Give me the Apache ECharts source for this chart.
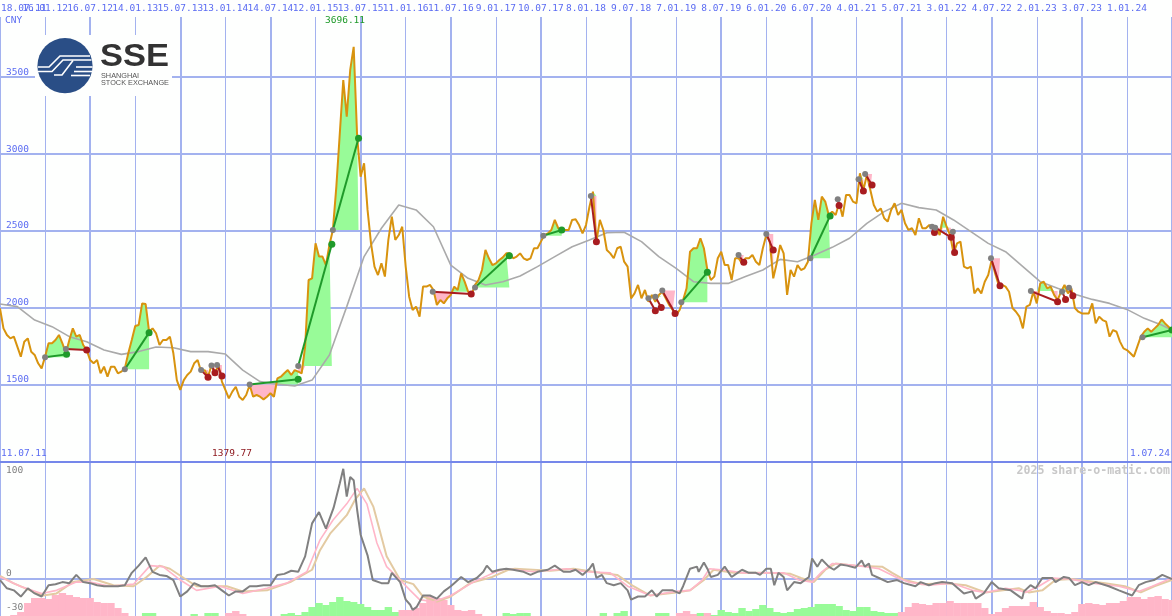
<!DOCTYPE html>
<html>
<head>
<meta charset="utf-8">
<style>html,body{margin:0;padding:0;background:#fefffe}#c{width:1172px;height:616px}</style>
<script src="https://cdn.jsdelivr.net/npm/echarts@6/dist/echarts.min.js"></script>
</head>
<body>
<div id="c"></div>
<script>
// x unit: one step = two weeks, starting 11.07.11
const tickLabels = ["18.07.11","16.01.12","16.07.12","14.01.13","15.07.13","13.01.14","14.07.14","12.01.15","13.07.15","11.01.16","11.07.16","9.01.17","10.07.17","8.01.18","9.07.18","7.01.19","8.07.19","6.01.20","6.07.20","4.01.21","5.07.21","3.01.22","4.07.22","2.01.23","3.07.23","1.01.24"];
const price = [
1998,1868,1825,1803,1814,1749,1684,1781,1803,1716,1695,1641,1608,1684,1771,1771,1792,1825,1771,1706,
1792,1868,1814,1825,1760,1727,1662,1641,1662,1576,1619,1554,1619,1619,1576,1587,1608,1706,1792,1883,
1890,2030,2026,1846,1868,1836,1760,1792,1792,1814,1706,1532,1468,1532,1565,1587,1641,1662,1587,1597,
1554,1630,1576,1630,1522,1468,1413,1457,1489,1424,1403,1435,1500,1424,1435,1424,1407,1424,1446,1424,
1543,1554,1576,1597,1565,1597,1587,1576,1749,2182,2193,2420,2334,2334,2279,2409,2507,2788,3135,3481,
3243,3546,3696,3113,2853,2940,2637,2420,2269,2214,2290,2204,2442,2593,2442,2474,2528,2269,2074,1987,
2009,1944,2139,2139,2150,2117,2020,2052,2030,2063,2085,2139,2117,2225,2171,2106,2085,2150,2182,2247,
2377,2323,2279,2290,2312,2329,2355,2355,2323,2334,2355,2323,2312,2323,2388,2388,2431,2474,2485,2507,
2572,2518,2507,2507,2507,2572,2576,2539,2485,2539,2658,2756,2431,2572,2507,2377,2355,2323,2388,2398,
2301,2269,2063,2095,2150,2063,2117,2041,2085,2041,2085,2106,2063,2020,1987,1955,1987,2052,2128,2366,
2388,2388,2453,2388,2247,2182,2204,2323,2366,2279,2279,2182,2323,2323,2290,2323,2323,2344,2301,2279,
2388,2474,2431,2193,2290,2409,2355,2085,2247,2204,2279,2247,2258,2301,2550,2702,2572,2723,2691,2604,
2626,2604,2680,2593,2734,2734,2691,2680,2875,2766,2864,2766,2669,2626,2647,2583,2561,2637,2680,2604,
2637,2550,2507,2518,2474,2583,2518,2518,2539,2528,2518,2474,2593,2528,2474,2355,2420,2431,2269,2258,
2269,2095,2128,2095,2171,2214,2312,2225,2150,2150,2139,2106,2000,1976,1944,1868,2009,2020,2106,2030,
2160,2171,2128,2139,2085,2052,2106,2150,2095,2128,2000,1976,1965,1965,1965,2030,1900,1944,1922,1911,
1814,1857,1846,1782,1738,1727,1706,1684,1749,1814,1846,1868,1846,1868,1890,1926,1900,1879,1846
];
const movingAvg = [
[0,2026],[5,2009],[10,1922],[15,1879],[20,1814],[25,1781],[30,1727],[35,1699],[40,1717],[45,1747],[50,1742],[55,1717],[60,1717],[65,1701],[70,1597],[75,1522],[80,1506],[85,1494],[90,1532],[95,1695],[100,2009],[105,2334],[110,2518],[115,2669],[120,2637],[125,2528],[130,2279],[135,2193],[140,2150],[145,2171],[150,2208],[155,2269],[160,2334],[165,2398],[170,2442],[175,2489],[180,2492],[185,2431],[190,2334],[195,2258],[200,2171],[205,2160],[210,2160],[215,2204],[220,2247],[225,2316],[230,2301],[235,2344],[240,2394],[245,2453],[250,2550],[255,2626],[260,2680],[265,2652],[270,2637],[275,2572],[280,2496],[285,2420],[290,2366],[295,2269],[300,2171],[305,2128],[310,2089],[315,2056],[320,2030],[325,1991],[330,1933],[335,1890],[338,1857]
];
// start index, start value, end index, end value
const segments = [
[13,1680,19.2,1699],[19,1734,25,1727],[36,1602,43,1840],[58,1597,60,1550],[61,1626,62,1580],[62.6,1630,64,1558],
[72,1504,86,1537],[86,1623,95.7,2414],[96,2507,103.4,3102],[124.8,2106,135.9,2091],[137,2134,146.9,2340],[156.7,2470,162,2507],
[170.4,2728,172,2431],[187,2063,189,1983],[189,2074,190.7,2004],[191,2113,194.7,1965],[196.5,2037,204,2232],[213,2344,214.5,2297],
[221,2481,223,2377],[233.7,2323,239.4,2598],[241.6,2706,242,2665],[247.6,2836,249,2760],[249.5,2870,251.5,2799],[268.8,2528,269.5,2490],
[269.7,2522,274.3,2459],[274.8,2496,275.3,2360],[285.8,2323,288.4,2145],[297.3,2110,305,2041],[306.3,2106,307.3,2056],[308.3,2132,309.4,2080],[329.5,1810,338,1857]
];
const oscillator = [
[0,-1],[2,-9],[4,-11],[6,-17],[8,-9],[10,-14],[12,-17],[14,-6],[16,-5],[18,-3],[20,-4],[22,4],[24,-3],[26,-4],[28,-6],[30,-7],[32,-7],[34,-7],[36,-6],[38,6],[40,13],[42,21],[44,7],[46,4],[48,3],[50,-1],[52,-17],[54,-12],[56,-4],[58,-7],[60,-7],[62,-6],[64,-11],[66,-16],[68,-12],[70,-12],[72,-7],[74,-7],[76,-6],[78,-6],[80,4],[82,5],[84,8],[86,7],[88,22],[90,54],[92,65],[94,49],[96.2,69],[98,93],[99,107],[100,80],[101,99],[102,96],[103,67],[104,43],[106,23],[107.5,-1],[110,-4],[112,-4],[113,6],[115.4,-3],[117,-20],[118.3,-25],[119,-30],[120.2,-27],[121,-22],[122,-16],[124,-16],[126,-19],[128,-12],[130,-7],[131,-4],[133,2],[135,-3],[137.5,1],[139.4,7],[140.4,13],[142,7],[144,9],[146,10],[148,9],[151,7],[153,4],[155,7],[158,9],[160,13],[162.5,7],[164.4,7],[166,9],[168,4],[170,10],[171,15],[172,1],[173.6,4],[175,-4],[177,-6],[179,-4],[181,-11],[182,-20],[184,-17],[186,-17],[188,-11],[189.4,-17],[191,-11],[194,-11],[196,-14],[197,-7],[199,10],[201,12],[201.5,7],[203,16],[204,10],[205,2],[207,4],[209,12],[211,2],[212.7,6],[214,9],[216,6],[218,6],[219.2,4],[221,10],[222.3,10],[223.3,-6],[224.5,6],[226,2],[227,-11],[229,-3],[230.9,-4],[233.3,2],[234.2,20],[235.7,12],[237,19],[239,12],[240.5,9],[242.4,14],[244.3,13],[246.7,11],[248.5,18],[249.4,12],[250.6,15],[251.5,4],[253.5,1],[256,-3],[258.7,-1],[260.7,-4],[264,-7],[265.5,-3],[267.9,-6],[269.8,-4],[271.7,-3],[274.6,-4],[278,-14],[280.4,-12],[281.4,-19],[283.7,-14],[286,-3],[288,-9],[291.5,-11],[294.8,-19],[295.3,-12],[297.2,-6],[298.7,-9],[300.6,1],[303.5,1],[304.4,-3],[306.8,2],[308.3,1],[310,-6],[312,-3],[314,-6],[316,-3],[319.8,-7],[322.7,-11],[326.5,-16],[328.4,-6],[330.4,-3],[332.8,-1],[335.2,4],[338,0]
];
const fastAvg = [
[0,2],[5.8,-7],[12,-14],[16.3,-11],[22,-3],[26,-3],[31.7,-7],[38.5,-5],[43.3,13],[47,12],[52,-1],[56.7,-11],[63.5,-7],[70,-14],[77,-9],[82.7,-4],[88.5,7],[92.3,38],[96,57],[100,73],[103,88],[105.8,73],[108.7,35],[111.5,12],[115.4,-1],[118.3,-11],[121,-20],[125,-22],[130,-16],[136.5,-3],[143,7],[146,10],[153.8,7],[163.5,10],[169,7],[176,6],[181,-7],[187.5,-16],[195,-12],[199,-11],[202.5,-1],[204.6,10],[208,9],[214.4,6],[221,6],[226,6],[230.4,-1],[234.2,-3],[237,7],[240,15],[244,14],[249.6,12],[253.5,10],[258.3,2],[262,-3],[267.9,-6],[274.6,-4],[280.4,-11],[284.2,-13],[290,-9],[293.8,-11],[295.8,-13],[299.6,-7],[303.5,1],[308.3,0],[315,-4],[322.7,-7],[328.4,-12],[332.3,-7],[338,1]
];
const slowAvg = [
[0,3],[3.8,-4],[8.7,-11],[12.5,-16],[16.3,-14],[21,-3],[27,0],[32.7,-6],[38.5,-7],[42.3,2],[46,13],[49,10],[53,1],[56.7,-7],[65.4,-7],[70,-12],[77,-11],[83.7,-3],[90,9],[92.3,28],[95.2,44],[100,62],[102.4,77],[105,88],[107.7,70],[111.5,22],[115.4,-1],[119.2,-5],[122,-17],[126,-22],[130,-17],[135.6,-4],[142,2],[146.6,9],[148.5,10],[158.7,8],[165.4,10],[173,6],[178,4],[182.7,-7],[187.5,-16],[195,-13],[199,-11],[203,-1],[205.8,9],[211.5,6],[221,6],[228,5],[231,1],[234.7,-3],[238,9],[241,15],[246.7,13],[254.4,12],[257.3,6],[261,-1],[265.9,-5],[272.7,-4],[278.5,-6],[284.2,-13],[293.8,-9],[296.7,-13],[300.6,-11],[304.4,-1],[309,0],[318.7,-4],[324.4,-7],[329,-13],[332.9,-7],[338,-1]
];
// signed histogram, one bar every second x step: above zero green, below zero pink
const histogram = [
0,0,-1,-4,-13,-18,-18,-17,-21,-23,-21,-19,-18,-18,-14,-13,-13,-8,-3,0,0,3,3,0,0,0,0,0,2,0,3,3,0,-3,-5,-2,0,0,0,0,0,2,3,1,4,9,13,11,14,19,
15,14,12,9,6,6,9,4,-6,-6,-8,-13,-20,-18,-16,-11,-6,-5,-6,-2,0,0,0,3,2,3,3,0,0,0,0,0,0,0,0,0,0,3,0,3,5,0,0,0,0,3,3,0,-3,-5,
-2,3,-3,1,6,4,3,8,5,7,11,8,4,3,4,7,8,9,12,12,12,10,6,5,9,9,5,4,3,3,-4,-9,-13,-12,-11,-13,-13,-15,-13,-13,-13,-13,-8,-2,-4,-8,-10,-10,-10,-14,
-9,-5,-3,-3,-2,-4,-12,-13,-12,-11,-13,-13,-15,-19,-19,-17,-19,-20,-17,-16
];
const priceMaxLabel = "3696.11", priceMinLabel = "1379.77", firstDate = "11.07.11", lastDate = "1.07.24", oscLow = "-30";

const BLUE='#5b6cf2', GRID='#a3b2ef', GREEN_FILL='#98fb98', PINK_FILL='#ffb6c8', GREEN='#1f9a2a', RED='#a81c20', GREYDOT='#808080';
const MONO='"DejaVu Sans Mono", monospace';
const thinX=(gi,extra)=>Object.assign({type:'value',gridIndex:gi,min:0,max:338,interval:13,axisLine:{show:false},axisTick:{show:false},axisLabel:{show:false},
  splitLine:{show:true,lineStyle:{color:GRID,width:1}}},extra||{});
const thickX=(gi,extra)=>Object.assign({type:'value',gridIndex:gi,min:0,max:338,interval:26,axisLine:{show:false},axisTick:{show:false},axisLabel:{show:false},
  splitLine:{show:true,lineStyle:{color:GRID,width:2}}},extra||{});

function renderFill(params,api){
  const s=segments[params.dataIndex], base=s[1], out=[];
  const build=(clip)=>{
    const pts=[api.coord([s[0],base])];
    for(let i=Math.ceil(s[0]);i<=Math.floor(s[2]);i++) pts.push(api.coord([i,clip(price[i],base)]));
    pts.push(api.coord([s[2],base]));
    return pts;
  };
  out.push({type:'polygon',shape:{points:build(Math.max)},style:{fill:GREEN_FILL}});
  out.push({type:'polygon',shape:{points:build(Math.min)},style:{fill:PINK_FILL}});
  return {type:'group',children:out};
}
function renderTrend(params,api){
  const s=segments[params.dataIndex], a=api.coord([s[0],s[1]]), b=api.coord([s[2],s[3]]), col=s[3]>s[1]?GREEN:RED;
  return {type:'group',children:[
    {type:'line',shape:{x1:a[0],y1:a[1],x2:b[0],y2:b[1]},style:{stroke:col,lineWidth:2}},
    {type:'circle',shape:{cx:a[0],cy:a[1],r:3},style:{fill:GREYDOT}},
    {type:'circle',shape:{cx:b[0],cy:b[1],r:3.5},style:{fill:col}}
  ]};
}
const txt=(text,x,y,fill,o)=>Object.assign({type:'text',z:100,x:x,y:y,style:Object.assign({text:text,fill:fill,font:'9.5px '+MONO,textVerticalAlign:'middle'},o||{})});
const sw=(pts,w)=>({type:'polyline',z:102,shape:{points:pts},style:{stroke:'#ffffff',lineWidth:w||1.6,fill:null}});

const option={
  animation:false,
  backgroundColor:'#fefffe',
  grid:[{left:0,right:0,top:17,height:445,outerBoundsMode:'none'},{left:0,right:0,top:462,height:154,outerBoundsMode:'none'}],
  xAxis:[
    thinX(0,{position:'top',axisLabel:{show:true,color:BLUE,fontFamily:MONO,fontSize:9.5,margin:3,showMinLabel:false,showMaxLabel:false,hideOverlap:false,
      formatter:v=>tickLabels[Math.round(v/13)]||''}}),
    thickX(0),
    thinX(1),
    thickX(1,{position:'top',axisLine:{show:true,onZero:false,lineStyle:{color:'#7587ea',width:2}}})
  ],
  yAxis:[
    {type:'value',gridIndex:0,min:1000,max:3890,interval:500,axisLine:{show:false},axisTick:{show:false},
      axisLabel:{inside:true,margin:6,color:BLUE,fontFamily:MONO,fontSize:9.5,verticalAlign:'bottom',showMinLabel:false,showMaxLabel:false,formatter:v=>String(v)},
      splitLine:{show:true,showMinLine:false,showMaxLine:false,lineStyle:{color:GRID,width:2}}},
    {type:'value',gridIndex:1,min:-35.9,max:113.6,axisLine:{show:false},axisTick:{show:false,customValues:[0]},
      axisLabel:{inside:true,margin:6,color:'#808080',fontFamily:MONO,fontSize:9.5,verticalAlign:'bottom',customValues:[0,100],showMinLabel:true,showMaxLabel:true,formatter:v=>String(v)},
      splitLine:{show:true,lineStyle:{color:GRID,width:2}}},
    {type:'value',gridIndex:1,min:0,max:154,show:false,splitLine:{show:false}}
  ],
  series:[
    {type:'custom',name:'fill',xAxisIndex:0,yAxisIndex:0,z:2,silent:true,renderItem:renderFill,data:segments,encode:{x:[0,2],y:[1,3]},clip:true},
    {type:'line',name:'moving average',xAxisIndex:0,yAxisIndex:0,z:3,data:movingAvg,showSymbol:false,silent:true,lineStyle:{color:'#aaaaaa',width:1.6}},
    {type:'line',name:'price',xAxisIndex:0,yAxisIndex:0,z:4,data:price.map((v,i)=>[i,v]),showSymbol:false,silent:true,lineStyle:{color:'#d8930e',width:2}},
    {type:'custom',name:'trend',xAxisIndex:0,yAxisIndex:0,z:5,silent:true,renderItem:renderTrend,data:segments,encode:{x:[0,2],y:[1,3]},clip:true},
    {type:'bar',name:'histogram',xAxisIndex:2,yAxisIndex:2,z:2,silent:true,barWidth:7.4,data:histogram.map((v,k)=>[k*2,Math.abs(v)]),
      itemStyle:{color:p=>histogram[p.dataIndex]>0?GREEN_FILL:PINK_FILL}},
    {type:'line',name:'slow',xAxisIndex:2,yAxisIndex:1,z:3,data:slowAvg,showSymbol:false,silent:true,lineStyle:{color:'#e3caa2',width:2}},
    {type:'line',name:'fast',xAxisIndex:2,yAxisIndex:1,z:4,data:fastAvg,showSymbol:false,silent:true,lineStyle:{color:'#ffb6c8',width:1.6}},
    {type:'line',name:'oscillator',xAxisIndex:2,yAxisIndex:1,z:5,data:oscillator,showSymbol:false,silent:true,lineStyle:{color:'#808080',width:2}}
  ],
  graphic:{elements:[
    txt(tickLabels[0],1,9,BLUE),
    txt('CNY',5,21,BLUE),
    txt(priceMaxLabel,325,21,'#1f9a2a'),
    txt(priceMinLabel,212,454,'#8e1a20'),
    txt(firstDate,1,454,BLUE),
    txt(lastDate,1170,454,BLUE,{textAlign:'right'}),
    txt(oscLow,6,608,'#808080'),
    txt('2025 share-o-matic.com',1170,471,'#c8c8c8',{textAlign:'right',font:'bold 11.6px '+MONO}),
    {type:'rect',z:99,shape:{x:35,y:35,width:137,height:61},style:{fill:'#fefffe'}},
    {type:'circle',z:101,shape:{cx:65,cy:65.7,r:27.6},style:{fill:'#2a4e86'}},
    sw([[38,67],[49,67],[60,56],[90,56]]),
    sw([[38,71.5],[52,71.5],[63,60],[91.5,60]]),
    sw([[54,75],[62,75],[73,60.5]],1.6),
    sw([[76,67],[92.5,67]]),sw([[74,71.5],[92.5,71.5]]),sw([[71,75.5],[90,75.5]]),
    {type:'text',z:100,x:100,y:58,scaleX:1.13,style:{text:'SSE',fill:'#333333',font:'bold 30.5px "Liberation Sans"',textVerticalAlign:'middle'}},
    {type:'text',z:100,x:101,y:75.5,style:{text:'SHANGHAI',fill:'#555555',font:'7.3px "Liberation Sans"',textVerticalAlign:'middle'}},
    {type:'text',z:100,x:101,y:82.5,style:{text:'STOCK EXCHANGE',fill:'#555555',font:'7.3px "Liberation Sans"',textVerticalAlign:'middle'}}
  ]}
};
echarts.init(document.getElementById('c')).setOption(option);
</script>
</body>
</html>
